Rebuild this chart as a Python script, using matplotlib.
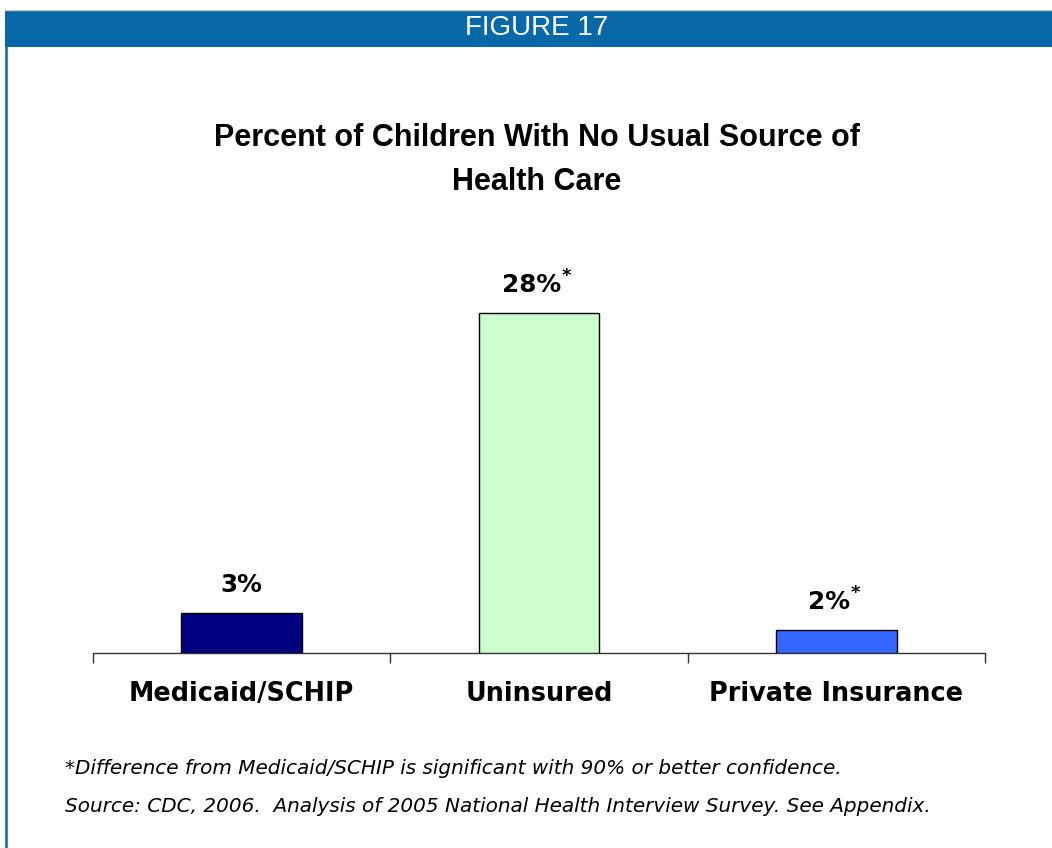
import matplotlib
matplotlib.use("Agg")
import matplotlib.pyplot as plt
from matplotlib.patches import Rectangle
from matplotlib.lines import Line2D

categories = ["Medicaid/SCHIP", "Uninsured", "Private Insurance"]
values = [3.3, 28.0, 1.9]
value_labels = ["3%", "28%", "2%"]
significant = [False, True, True]
colors = ["#000080", "#CCFFCC", "#3366FF"]

header_text = "FIGURE 17"
title_lines = ["Percent of Children With No Usual Source of", "Health Care"]
footnote1 = "*Difference from Medicaid/SCHIP is significant with 90% or better confidence."
footnote2 = "Source: CDC, 2006.  Analysis of 2005 National Health Interview Survey. See Appendix."

W, H = 1052, 848
fig = plt.figure(figsize=(W / 100, H / 100), dpi=100)
fig.patch.set_facecolor("white")

arial = ["Liberation Sans", "DejaVu Sans"]

def fx(px):
    return px / W

def fy(py):
    return 1 - py / H

# header bar
fig.patches.append(Rectangle((fx(5), fy(47)), fx(W - 5), 37 / H, transform=fig.transFigure,
                             facecolor="#0868A8", edgecolor="none", zorder=0))
fig.lines.append(Line2D([fx(5), 1], [fy(9.5), fy(9.5)], transform=fig.transFigure,
                        color="#C8C8C8", lw=1))
fig.lines.append(Line2D([fx(6), fx(6)], [fy(47), 0], transform=fig.transFigure,
                        color="#0868A8", lw=1.8))
fig.text(fx(537), fy(28), header_text, ha="center", va="center", color="white",
         fontsize=20, family=arial)

# title
for txt, yy in zip(title_lines, [138, 182]):
    fig.text(fx(537), fy(yy), txt, ha="center", va="center", fontsize=22,
             fontweight="bold", family=arial)

# axes
ax = fig.add_axes([fx(93), fy(653), fx(985 - 93), (653 - 273) / H])
x = list(range(len(categories)))
ax.bar(x, values, width=0.405, color=colors, edgecolor="black", linewidth=1.0, zorder=3)
ax.set_xlim(-0.5, len(categories) - 0.5)
ax.set_ylim(0, 28.0 * 380 / 340)
for s in ["top", "left", "right"]:
    ax.spines[s].set_visible(False)
ax.spines["bottom"].set_color("#333333")
ax.spines["bottom"].set_linewidth(1.0)
ax.set_yticks([])
ax.set_xticks(x)
ax.set_xticklabels(categories, fontsize=18.4, fontweight="bold", family="DejaVu Sans")
ax.tick_params(axis="x", which="major", length=0, pad=20)
ax.set_xticks([i - 0.5 for i in range(len(categories) + 1)], minor=True)
ax.tick_params(axis="x", which="minor", length=7, width=1.0, color="#333333", direction="out")

texts = []
for i, (v, lab, sig) in enumerate(zip(values, value_labels, significant)):
    dx = -5.5 if sig else 0
    t = ax.annotate(lab, xy=(i, v), xytext=(dx, 20), textcoords="offset points",
                    ha="center", va="center", fontsize=17.8, fontweight="bold",
                    family="DejaVu Sans")
    texts.append(t)

fig.canvas.draw()
renderer = fig.canvas.get_renderer()
for t, sig in zip(texts, significant):
    if sig:
        bb = t.get_window_extent(renderer)
        fig.text(bb.x1 / W + 1 / W, bb.y1 / H - 3 / H, "*", ha="left", va="center",
                 fontsize=13, fontweight="bold", family="DejaVu Sans")

# footnotes
fig.text(fx(65), fy(769), footnote1, ha="left", va="center", fontsize=14.4,
         style="italic", family="DejaVu Sans")
fig.text(fx(65), fy(806), footnote2, ha="left", va="center", fontsize=14.4,
         style="italic", family="DejaVu Sans")

fig.savefig("out.png", dpi=100, facecolor="white")
